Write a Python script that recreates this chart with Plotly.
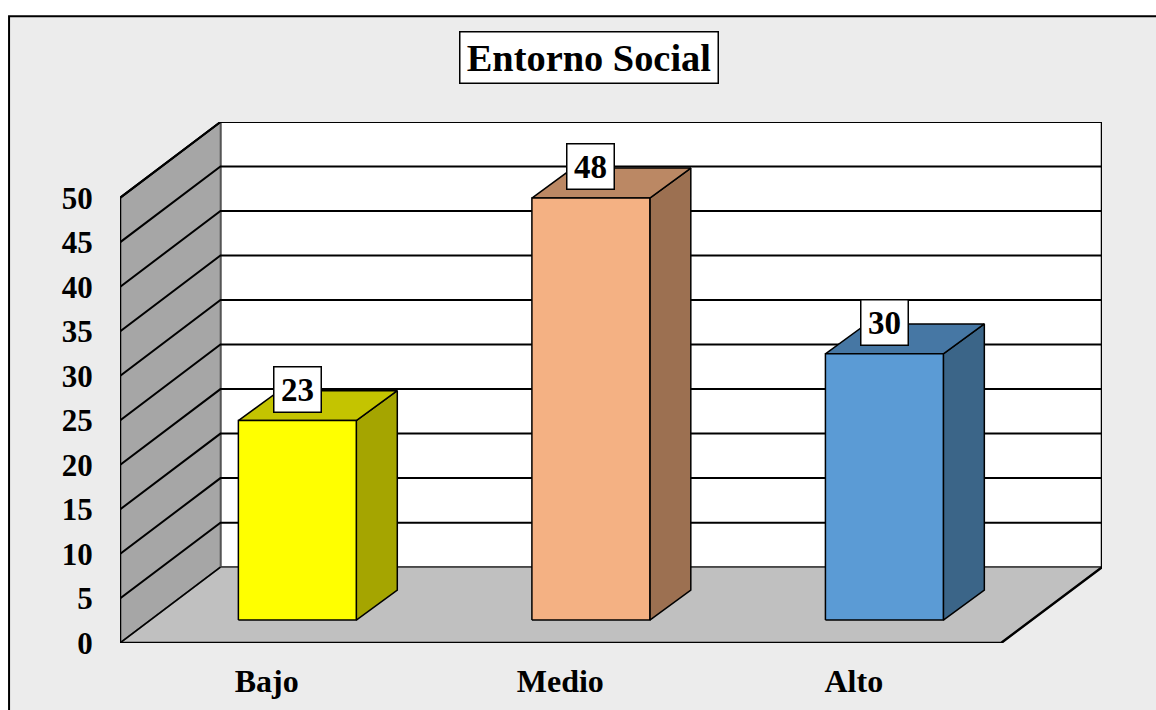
import plotly.graph_objects as go

# ---- data ----
categories = ["Bajo", "Medio", "Alto"]
value_labels = [23, 48, 30]
bar_heights = [22.4, 47.4, 29.9]   # heights as actually drawn in the picture
front_colors = ["#FFFF00", "#F4B183", "#5B9BD5"]
top_colors = ["#C4C400", "#BB8864", "#4677A4"]
side_colors = ["#A5A500", "#9C7051", "#3B6588"]
y_ticks = [0, 5, 10, 15, 20, 25, 30, 35, 40, 45, 50]
chart_title = "Entorno Social"

FONT = "Liberation Serif"
W, H = 1156, 710
L, R, T, B = 119.5, 1102, 121.5, 643.5      # plot box in pixels
PX_X = 293.67                          # pixels per category
PX_Y = 8.92                            # pixels per value unit
DX = 100.5 / PX_X                      # wall depth in axis units
DY = 76 / PX_Y
BAR_W = 118 / PX_X
BAR_DX = 41 / PX_X
BAR_DY = 30 / PX_Y
GAP_X = 30.6 / PX_X
GAP_Y = 23.0 / PX_Y
XMAX = (R - L) / PX_X
YMAX = (B - T) / PX_Y
FLOOR_W = 881.5 / PX_X


def poly(xs, ys, fill, line="black", width=1.5):
    return go.Scatter(
        x=xs + xs[:1], y=ys + ys[:1], mode="lines", fill="toself", fillcolor=fill,
        line=dict(color=line, width=width, shape="linear"),
        hoverinfo="skip", showlegend=False, cliponaxis=False,
    )


def seg(xs, ys, width=2, color="black"):
    return go.Scatter(x=xs, y=ys, mode="lines", line=dict(color=color, width=width),
                      hoverinfo="skip", showlegend=False, cliponaxis=False)


fig = go.Figure()

# back wall (white), left wall, floor
top = y_ticks[-1]
fig.add_trace(poly([DX, XMAX, XMAX, DX], [DY, DY, DY + top, DY + top], "#FFFFFF", width=2))
fig.add_trace(poly([0, DX, DX, 0], [0, DY, DY + top, top], "#A6A6A6", line="#555555", width=1.5))
fig.add_trace(poly([0, FLOOR_W, XMAX, DX], [0, 0, DY, DY], "#C0C0C0", line="#555555", width=1.5))

# grid lines on walls
for t in y_ticks[1:]:
    fig.add_trace(seg([0, DX, XMAX], [t, DY + t, DY + t], width=2))

# frame lines
fig.add_trace(seg([0, DX], [0, DY], width=1.5))
fig.add_trace(seg([0, 0, FLOOR_W, XMAX, XMAX], [top, 0, 0, DY, DY + top], width=2.5))
fig.add_trace(seg([0, DX, XMAX], [top, DY + top, DY + top], width=2))

# bars
for i, h in enumerate(bar_heights):
    x0 = i + 0.5 + GAP_X - BAR_W / 2
    x1 = x0 + BAR_W
    y0 = GAP_Y
    y1 = y0 + h
    fig.add_trace(poly([x1, x1 + BAR_DX, x1 + BAR_DX, x1],
                       [y0, y0 + BAR_DY, y1 + BAR_DY, y1], side_colors[i]))
    fig.add_trace(poly([x0, x0 + BAR_DX, x1 + BAR_DX, x1],
                       [y1, y1 + BAR_DY, y1 + BAR_DY, y1], top_colors[i]))
    fig.add_trace(poly([x0, x1, x1, x0], [y0, y0, y1, y1], front_colors[i]))
    fig.add_annotation(
        x=i + 0.5 + GAP_X, y=y1 + BAR_DY / 2 + 1.85, text=f"<b>{value_labels[i]}</b>",
        showarrow=False, bgcolor="#FFFFFF", bordercolor="black", borderwidth=1.5,
        borderpad=3, font=dict(family=FONT, size=33, color="black"),
        width=40, height=38, xanchor="center", yanchor="middle",
    )

fig.add_annotation(
    xref="paper", yref="paper", x=(589 - L) / (R - L), y=(B - 56.5) / (B - T),
    text=f"<b>{chart_title}</b>", showarrow=False, bgcolor="#FFFFFF",
    bordercolor="black", borderwidth=1.5, borderpad=2, width=253, height=46,
    font=dict(family=FONT, size=38.4, color="black"), xanchor="center", yanchor="middle",
)

fig.update_layout(
    width=W, height=H, autosize=False,
    margin=dict(l=L, r=W - R, t=T, b=H - B, pad=0),
    paper_bgcolor="#FFFFFF", plot_bgcolor="rgba(0,0,0,0)",
    showlegend=False,
    xaxis=dict(
        automargin=False,
        range=[0, XMAX], tickmode="array", tickvals=[i + 0.5 for i in range(len(categories))],
        ticktext=[f"<b>{c}</b>" for c in categories], showgrid=False, zeroline=False,
        showline=False, ticks="outside", ticklen=10, tickcolor="rgba(0,0,0,0)", tickangle=0,
        tickfont=dict(family=FONT, size=32, color="black"), fixedrange=True,
    ),
    yaxis=dict(
        automargin=False,
        range=[0, YMAX], tickmode="array", tickvals=y_ticks,
        ticktext=[f"<b>{t}</b>" for t in y_ticks], showgrid=False, zeroline=False,
        showline=False, ticks="outside", ticklen=20, tickcolor="rgba(0,0,0,0)",
        tickfont=dict(family=FONT, size=31, color="black"), fixedrange=True,
    ),
    shapes=[dict(type="rect", xref="paper", yref="paper", layer="below",
                 x0=(8.5 - L) / (R - L), x1=(W + 10 - L) / (R - L),
                 y0=(B - H - 10) / (B - T), y1=(B - 15.5) / (B - T),
                 fillcolor="#ECECEC", line=dict(color="black", width=2))],
)

fig.write_html("out.html", config={"displayModeBar": False},
               post_script="document.body.style.margin='0';document.body.style.overflow='hidden';")
